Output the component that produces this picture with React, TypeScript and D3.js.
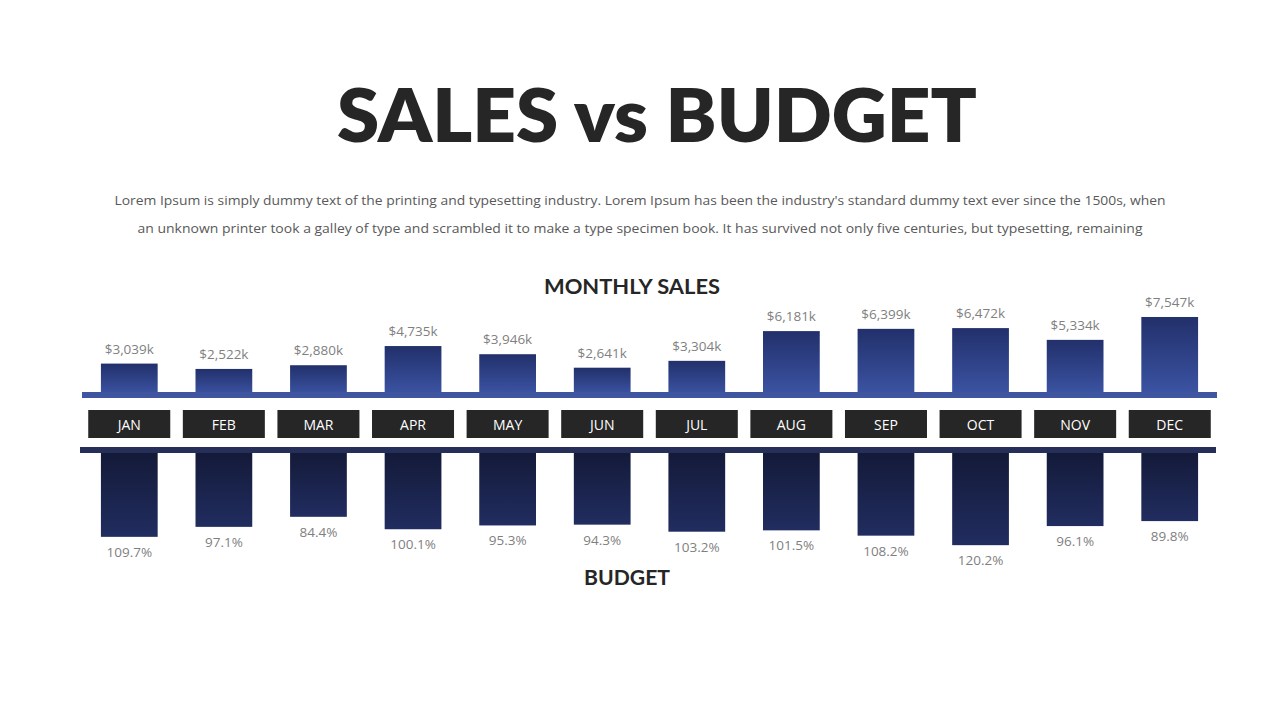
import React, { useRef, useEffect } from 'react';
import * as d3 from 'd3';

const months = ['JAN', 'FEB', 'MAR', 'APR', 'MAY', 'JUN', 'JUL', 'AUG', 'SEP', 'OCT', 'NOV', 'DEC'];
const sales = [3039, 2522, 2880, 4735, 3946, 2641, 3304, 6181, 6399, 6472, 5334, 7547];
const budget = [109.7, 97.1, 84.4, 100.1, 95.3, 94.3, 103.2, 101.5, 108.2, 120.2, 96.1, 89.8];

const paragraph = [
  "Lorem Ipsum is simply dummy text of the printing and typesetting industry. Lorem Ipsum has been the industry's standard dummy text ever since the 1500s, when",
  'an unknown printer took a galley of type and scrambled it to make a type specimen book. It has survived not only five centuries, but typesetting, remaining',
];

const W = 1280;
const H = 720;

const App: React.FC = () => {
  const svgRef = useRef<SVGSVGElement>(null);

  useEffect(() => {
    if (!svgRef.current) return;
    const svg = d3.select(svgRef.current);
    svg.selectAll('*').remove();

    const defs = svg.append('defs');
    const topGrad = defs.append('linearGradient')
      .attr('id', 'sales-grad')
      .attr('x1', 0).attr('y1', 0).attr('x2', 0).attr('y2', 1);
    topGrad.append('stop').attr('offset', '0%').attr('stop-color', '#22306b');
    topGrad.append('stop').attr('offset', '100%').attr('stop-color', '#3c54a4');

    const botGrad = defs.append('linearGradient')
      .attr('id', 'budget-grad')
      .attr('x1', 0).attr('y1', 0).attr('x2', 0).attr('y2', 1);
    botGrad.append('stop').attr('offset', '0%').attr('stop-color', '#131937');
    botGrad.append('stop').attr('offset', '100%').attr('stop-color', '#212d60');

    // title
    svg.append('text')
      .attr('x', 657).attr('y', 142)
      .attr('text-anchor', 'middle')
      .attr('textLength', 640)
      .attr('lengthAdjust', 'spacingAndGlyphs')
      .style('font-family', 'Lato, sans-serif')
      .style('font-weight', 800)
      .style('font-size', '74px')
      .style('fill', '#262626')
      .text('SALES vs BUDGET');

    // paragraph
    svg.selectAll('text.para')
      .data(paragraph)
      .join('text')
      .attr('class', 'para')
      .attr('x', 640)
      .attr('y', (_, i) => 205 + i * 28)
      .attr('text-anchor', 'middle')
      .attr('textLength', (_, i) => (i === 0 ? 1051 : 1005))
      .attr('lengthAdjust', 'spacingAndGlyphs')
      .style('font-family', '"Open Sans", sans-serif')
      .style('font-size', '13.5px')
      .style('fill', '#595959')
      .text(d => d);

    const x = d3.scaleBand<string>()
      .domain(months)
      .range([82, 1217])
      .paddingInner(0.4)
      .paddingOuter(0.2);

    const xBox = d3.scaleBand<string>()
      .domain(months)
      .range([82, 1217])
      .paddingInner(0.133)
      .paddingOuter(0.066);

    const topBase = 395;
    const ySales = d3.scaleLinear().domain([0, 8000]).range([topBase, topBase - 82.7]);

    const botBase = 450;
    const yBudget = d3.scaleLinear().domain([0, 120]).range([botBase, botBase + 95]);

    svg.append('text')
      .attr('x', 632).attr('y', 294)
      .attr('text-anchor', 'middle')
      .attr('textLength', 176)
      .attr('lengthAdjust', 'spacingAndGlyphs')
      .style('font-family', 'Lato, sans-serif')
      .style('font-weight', 700)
      .style('font-size', '20px')
      .style('fill', '#262626')
      .text('MONTHLY SALES');

    // sales bars
    svg.selectAll('rect.sales')
      .data(sales)
      .join('rect')
      .attr('class', 'sales')
      .attr('x', (_, i) => x(months[i])!)
      .attr('width', x.bandwidth())
      .attr('y', d => ySales(d))
      .attr('height', d => topBase - ySales(d))
      .attr('fill', 'url(#sales-grad)');

    svg.selectAll('text.sales-lbl')
      .data(sales)
      .join('text')
      .attr('class', 'sales-lbl')
      .attr('x', (_, i) => x(months[i])! + x.bandwidth() / 2)
      .attr('y', d => ySales(d) - 10)
      .attr('text-anchor', 'middle')
      .style('font-family', '"Open Sans", sans-serif')
      .style('font-size', '13.5px')
      .style('fill', '#7f7f7f')
      .text(d => `$${d3.format(',')(d)}k`);

    // top strip
    svg.append('rect')
      .attr('x', 82).attr('y', 392)
      .attr('width', 1135).attr('height', 6)
      .attr('fill', '#3f559f');

    // month boxes
    const box = svg.selectAll('g.month')
      .data(months)
      .join('g')
      .attr('class', 'month')
      .attr('transform', d => `translate(${xBox(d)},410)`);
    box.append('rect')
      .attr('width', xBox.bandwidth())
      .attr('height', 28)
      .attr('fill', '#262626');
    box.append('text')
      .attr('x', xBox.bandwidth() / 2)
      .attr('y', 19.5)
      .attr('text-anchor', 'middle')
      .style('font-family', '"Open Sans", sans-serif')
      .style('font-size', '14px')
      .style('fill', '#ffffff')
      .text(d => d);

    // budget bars
    svg.selectAll('rect.budget')
      .data(budget)
      .join('rect')
      .attr('class', 'budget')
      .attr('x', (_, i) => x(months[i])!)
      .attr('width', x.bandwidth())
      .attr('y', botBase)
      .attr('height', d => yBudget(d) - botBase)
      .attr('fill', 'url(#budget-grad)');

    svg.append('rect')
      .attr('x', 80).attr('y', 447)
      .attr('width', 1136).attr('height', 6)
      .attr('fill', '#252f57');

    svg.selectAll('text.budget-lbl')
      .data(budget)
      .join('text')
      .attr('class', 'budget-lbl')
      .attr('x', (_, i) => x(months[i])! + x.bandwidth() / 2)
      .attr('y', d => yBudget(d) + 20)
      .attr('text-anchor', 'middle')
      .style('font-family', '"Open Sans", sans-serif')
      .style('font-size', '13.5px')
      .style('fill', '#7f7f7f')
      .text(d => `${d.toFixed(1)}%`);

    svg.append('text')
      .attr('x', 627).attr('y', 585)
      .attr('text-anchor', 'middle')
      .attr('textLength', 86)
      .attr('lengthAdjust', 'spacingAndGlyphs')
      .style('font-family', 'Lato, sans-serif')
      .style('font-weight', 700)
      .style('font-size', '20px')
      .style('fill', '#262626')
      .text('BUDGET');
  }, []);

  return (
    <div style={{ position: 'absolute', left: 0, top: 0, width: W, height: H, background: '#ffffff' }}>
      <svg ref={svgRef} width={W} height={H} />
    </div>
  );
};

export default App;
